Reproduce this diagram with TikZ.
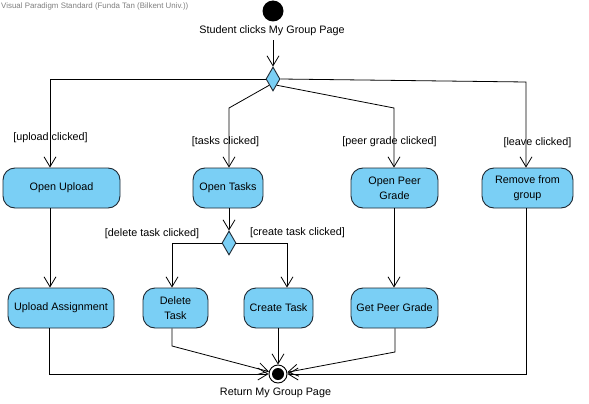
\documentclass[tikz,border=0pt]{standalone}
\usepackage{fontspec}
\setmainfont{Liberation Sans}
\usetikzlibrary{shapes.geometric,arrows.meta}
\definecolor{actfill}{RGB}{122,207,245}
\definecolor{actdraw}{RGB}{30,40,50}
\begin{document}
\begin{tikzpicture}[x=1pt,y=-1pt,
  act/.style={draw=actdraw, fill=actfill, rounded corners=12pt, line width=0.9pt,
    minimum height=40pt, inner sep=0pt, align=center,
    font=\fontsize{10.8}{15}\selectfont},
  dec/.style={diamond, draw=actdraw, fill=actfill, line width=0.9pt, inner sep=0pt,
    minimum width=14pt, minimum height=24pt},
  lbl/.style={font=\fontsize{10.8}{12}\selectfont, inner sep=0pt},
  flow/.style={line width=0.8pt, -{Straight Barb[length=10pt,width=12pt,line width=0.8pt]}},
  seg/.style={line width=0.8pt}
]
\useasboundingbox (0,0) rectangle (589,404);
\fill[white] (0,0) rectangle (589,404);

\node[anchor=west, inner sep=0pt, text=black!50, font=\fontsize{7.9}{8}\selectfont] (hdr) at (1,6) {Visual Paradigm Standard (Funda Tan (Bilkent Univ.))};

% initial
\node[circle, fill=black, minimum size=21pt, inner sep=0pt] (init) at (273,11) {};
\node[lbl] (start) at (272,31) {Student clicks My Group Page};

% decision 1
\node[dec] (d1) at (273,79) {};

% activities row 1
\node[act, minimum width=117pt] (ou) at (61.5,188) {Open Upload};
\node[act, minimum width=70pt] (ot) at (228,188) {Open Tasks};
\node[act, minimum width=87pt] (op) at (394.5,188) {Open Peer\\Grade};
\node[act, minimum width=91pt] (rg) at (527.5,188) {Remove from\\group};

% decision 2
\node[dec] (d2) at (229,243) {};

% activities row 2
\node[act, minimum width=106pt] (ua) at (61,308) {Upload Assignment};
\node[act, minimum width=65pt] (dt) at (175.5,308) {Delete\\Task};
\node[act, minimum width=69pt] (ct) at (278.5,308) {Create Task};
\node[act, minimum width=87pt] (gp) at (394.5,308) {Get Peer Grade};

% final
\node[circle, draw=black, line width=0.9pt, minimum size=18pt, inner sep=0pt] (fin) at (278,374) {};
\fill[black] (fin.center) circle (6pt);
\node[lbl] (endlbl) at (275.5,393) {Return My Group Page};

% guards
\node[lbl] (g1) at (50.5,138) {[upload clicked]};
\node[lbl] (g2) at (225.5,142) {[tasks clicked]};
\node[lbl] (g3) at (389.5,142) {[peer grade clicked]};
\node[lbl] (g4) at (537.5,143) {[leave clicked]};
\node[lbl] (g5) at (152,234) {[delete task clicked]};
\node[lbl] (g6) at (297.5,233) {[create task clicked]};

% bend coordinates
\coordinate (b1) at (50,79);
\coordinate (b2) at (229,108);
\coordinate (b3) at (394,108);
\coordinate (b4) at (526,82);
\coordinate (b5) at (172,243);
\coordinate (b6) at (287,243);
\coordinate (b7) at (49,374);
\coordinate (b8) at (172,346);
\coordinate (b9) at (395,352);
\coordinate (b10) at (526,374);

% connectors
\draw[flow] (d1 |- start.south) ++(0,4) -- (d1.north);
\draw[flow] (d1.west) -- (b1) -- (b1 |- ou.north);
\draw[flow] (d1.south west) -- (b2) -- (b2 |- ot.north);
\draw[flow] (d1.south east) -- (b3) -- (b3 |- op.north);
\draw[flow] (d1.east) -- (b4) -- (b4 |- rg.north);

\draw[flow] (b1 |- ou.south) -- (b1 |- ua.north);
\draw[flow] (d2 |- ot.south) -- (d2.north);
\draw[flow] (d2.west) -- (b5) -- (b5 |- dt.north);
\draw[flow] (d2.east) -- (b6) -- (b6 |- ct.north);
\draw[flow] (b3 |- op.south) -- (b3 |- gp.north);

\draw[flow] (b7 |- ua.south) -- (b7) -- (fin.west);
\draw[flow] (b8 |- dt.south) -- (b8) -- (fin);
\draw[flow] (fin |- ct.south) -- (fin.north);
\draw[flow] (b9 |- gp.south) -- (b9) -- (fin);
\draw[flow] (b4 |- rg.south) -- (b10) -- (fin.east);
\end{tikzpicture}
\end{document}
